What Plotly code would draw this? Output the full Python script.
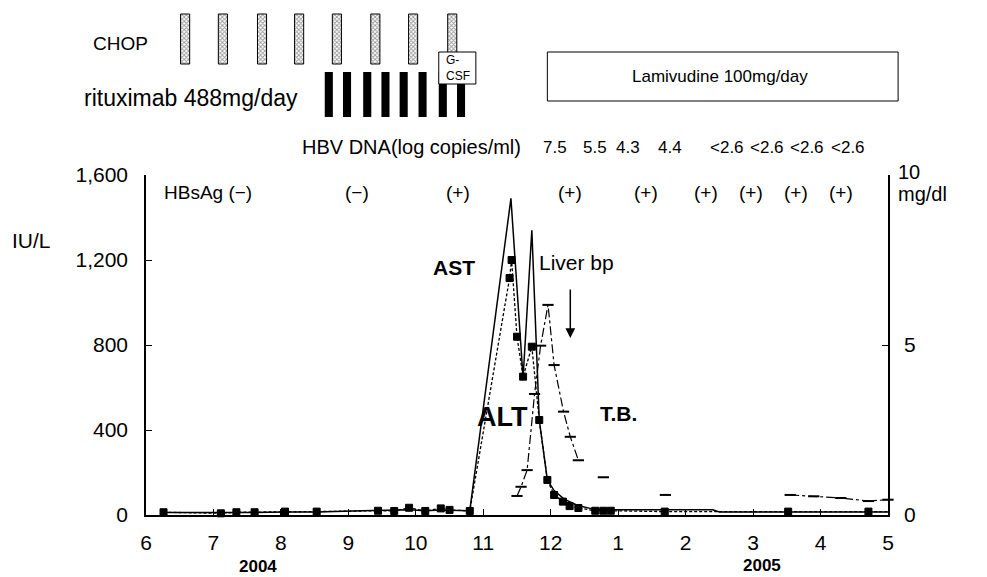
import plotly.graph_objects as go

# ---------------- data (x = months since 1 June 2004) ----------------
month_ticks = list(range(12))
month_labels = ["6", "7", "8", "9", "10", "11", "12", "1", "2", "3", "4", "5"]

ast_x = [0.26, 1.11, 1.34, 1.61, 2.06, 2.53, 3.20, 3.44, 3.68, 3.90, 4.14, 4.37, 4.50, 4.80,
         5.41, 5.59, 5.72, 5.83, 5.95, 6.05, 6.20, 6.40, 6.60, 6.80, 7.00, 8.40, 8.50, 11.0]
ast_y = [12, 10, 12, 12, 14, 14, 20, 22, 22, 25, 20, 24, 22, 20,
         1490, 645, 1340, 447, 165, 115, 75, 45, 30, 25, 25, 25, 14, 14]

alt_x = [0.26, 1.11, 1.34, 1.61, 2.06, 2.53, 3.44, 3.68, 3.90, 4.14, 4.37, 4.50, 4.80,
         5.39, 5.42, 5.50, 5.59, 5.72, 5.83, 5.95, 6.05, 6.18, 6.28, 6.41, 6.66, 6.78, 6.89,
         7.69, 9.52, 10.71, 11.0]
alt_y = [13, 8, 13, 13, 16, 16, 20, 19, 34, 19, 31, 24, 19,
         1115, 1200, 839, 651, 792, 447, 165, 94, 63, 42, 33, 20, 20, 20,
         16, 16, 16, 16]

tb_x = [5.50, 5.56, 5.65, 5.76, 5.85, 5.96, 6.05, 6.19, 6.29, 6.41, None, 6.78, None, 7.70, None,
        9.55, 9.90, 10.30, 10.71, 11.0]
tb_y = [0.56, 0.83, 1.32, 3.56, 4.98, 6.18, 4.41, 3.04, 2.30, 1.61, None, 1.11, None, 0.59, None,
        0.59, 0.55, 0.50, 0.41, 0.45]

chop_dates = [0.58, 1.14, 1.72, 2.27, 2.83, 3.40, 3.96, 4.54]
ritux_dates = [2.71, 2.98, 3.28, 3.55, 3.82, 4.10, 4.40, 4.67]
gcsf_period = [4.34, 4.89]
lamivudine_period = [5.95, 11.15]

hbv_dates = [6.07, 6.66, 7.15, 7.77, 8.62, 9.21, 9.80, 10.41]
hbv_values = ["7.5", "5.5", "4.3", "4.4", "<2.6", "<2.6", "<2.6", "<2.6"]

hbsag_dates = [3.13, 4.62, 6.28, 7.41, 8.30, 8.97, 9.64, 10.30]
hbsag_values = ["(−)", "(+)", "(+)", "(+)", "(+)", "(+)", "(+)", "(+)"]

# ---------------- layout helpers ----------------
W, H = 987, 577
ML, MR, MT, MB = 146, 99, 0, 62
PW = W - ML - MR          # 742
PH = H - MT - MB          # 515
MAIN_TOP = 175            # pixel y of top of main plot
main_dom = (PH - MAIN_TOP) / PH


def px(xp):
    return (xp - ML) / PW


def py(yp):
    return (PH - yp) / PH


FONT = "Liberation Sans, Arial, sans-serif"

fig = go.Figure()

# treatment schematic (top area, y3 in pixel-like units from top)
fig.add_trace(go.Bar(
    x=chop_dates, y=[50] * len(chop_dates), base=[14] * len(chop_dates),
    width=0.135, xaxis="x", yaxis="y3",
    marker=dict(color="white", line=dict(color="black", width=1),
                pattern=dict(shape="x", size=3, solidity=0.5, fgcolor="#333", bgcolor="white")),
    showlegend=False, hoverinfo="skip"))
fig.add_trace(go.Bar(
    x=ritux_dates, y=[45] * len(ritux_dates), base=[72] * len(ritux_dates),
    width=0.12, xaxis="x", yaxis="y3",
    marker=dict(color="black", line=dict(width=0)),
    showlegend=False, hoverinfo="skip"))

# AST solid
fig.add_trace(go.Scatter(
    x=ast_x, y=ast_y, mode="lines", line=dict(color="black", width=1.5),
    name="AST", showlegend=False, cliponaxis=False))
# ALT dashed with squares
fig.add_trace(go.Scatter(
    x=alt_x, y=alt_y, mode="lines+markers",
    line=dict(color="black", width=1.3, dash="3px,2px"),
    marker=dict(symbol="square", size=[7] * (len(alt_x) - 1) + [0], color="black",
                opacity=1, line=dict(color="black", width=1)),
    name="ALT", showlegend=False, cliponaxis=False))
# T.B. on right axis
fig.add_trace(go.Scatter(
    x=tb_x, y=tb_y, yaxis="y2", mode="lines+markers",
    line=dict(color="black", width=1.2, dash="dashdot"),
    marker=dict(symbol="line-ew", size=8, line=dict(color="black", width=2)),
    name="T.B.", showlegend=False, connectgaps=False, cliponaxis=False))

shapes = [
    dict(type="rect", xref="paper", yref="y3",
         x0=gcsf_period[0] / 11, x1=gcsf_period[1] / 11, y0=52, y1=84,
         fillcolor="white", line=dict(color="black", width=1), layer="above"),
    dict(type="rect", xref="paper", yref="y3",
         x0=lamivudine_period[0] / 11, x1=lamivudine_period[1] / 11, y0=52, y1=101,
         fillcolor="white", line=dict(color="black", width=1), layer="above"),
]

ann = []


def text(x, y, s, size, xref="paper", yref="paper", xanchor="center", bold=False, align="center"):
    ann.append(dict(x=x, y=y, xref=xref, yref=yref, text=(f"<b>{s}</b>" if bold else s),
                    showarrow=False, xanchor=xanchor, yanchor="middle", align=align,
                    font=dict(family=FONT, size=size, color="black")))


text(px(91), py(43), "CHOP", 19, xanchor="left")
text(px(82), py(98), "rituximab 488mg/day", 23, xanchor="left")
text(px(444), py(68), "G-<br>CSF", 12, xanchor="left", align="left")
text(sum(lamivudine_period) / 2 / 11 - 0.004, py(76), "Lamivudine 100mg/day", 17)
text(px(300), py(147), "HBV DNA(log copies/ml)", 20, xanchor="left")
for d, v in zip(hbv_dates, hbv_values):
    text(d, py(147), v, 17, xref="x")
text(px(162), py(192), "HBsAg (−)", 19, xanchor="left")
for d, v in zip(hbsag_dates, hbsag_values):
    text(d, py(192), v, 19, xref="x")
text(px(10), py(240), "IU/L", 21, xanchor="left")
text(px(896), py(172), "10", 20, xanchor="left")
text(px(896), py(194), "mg/dl", 20, xanchor="left")
text(4.57, 1167, "AST", 21, xref="x", yref="y", bold=True)
text(5.28, 461, "ALT", 27, xref="x", yref="y", bold=True)
text(7.0, 480, "T.B.", 21, xref="x", yref="y", bold=True)
text(5.80, 1186, "Liver bp", 21, xref="x", yref="y", xanchor="left")
text(1.66, py(566), "2004", 17, xref="x", bold=True)
text(9.13, py(565), "2005", 17, xref="x", bold=True)

ann.append(dict(x=6.29, y=833, ax=6.29, ay=1068, xref="x", yref="y", axref="x", ayref="y",
                showarrow=True, arrowhead=2, arrowsize=1.3, arrowwidth=1.5, arrowcolor="black",
                text=""))

axis_font = dict(family=FONT, size=21, color="black")
fig.update_layout(
    width=W, height=H,
    margin=dict(l=ML, r=MR, t=MT, b=MB, autoexpand=False),
    paper_bgcolor="white", plot_bgcolor="white",
    barmode="overlay",
    showlegend=False,
    xaxis=dict(range=[0, 11], tickvals=month_ticks, ticktext=month_labels,
               ticks="inside", ticklen=6, tickcolor="black", tickwidth=1,
               showline=True, linecolor="black", linewidth=1.5, showgrid=False,
               zeroline=False, tickfont=axis_font, ticklabelstandoff=8, anchor="y",
               automargin=False),
    yaxis=dict(domain=[0, main_dom], range=[0, 1600], tickvals=[0, 400, 800, 1200, 1600],
               ticktext=["0", "400", "800", "1,200", "1,600"],
               ticks="inside", ticklen=6, tickcolor="black", tickwidth=1,
               showline=True, linecolor="black", linewidth=1.5, showgrid=False,
               zeroline=False, tickfont=axis_font, ticklabelstandoff=12, automargin=False),
    yaxis2=dict(overlaying="y", side="right", range=[0, 10], tickvals=[0, 5, 10],
                ticktext=["0", "5", ""],
                ticks="inside", ticklen=6, tickcolor="black", tickwidth=1,
                showline=True, linecolor="black", linewidth=1.5, showgrid=False,
                zeroline=False, tickfont=axis_font, ticklabelstandoff=10, automargin=False),
    yaxis3=dict(domain=[main_dom, 1], range=[MAIN_TOP, 0], visible=False,
                anchor="x", fixedrange=True, automargin=False),
    shapes=shapes,
    annotations=ann,
)

fig.write_html("out.html", config={"displayModeBar": False},
               post_script="document.body.style.margin='0px';")
